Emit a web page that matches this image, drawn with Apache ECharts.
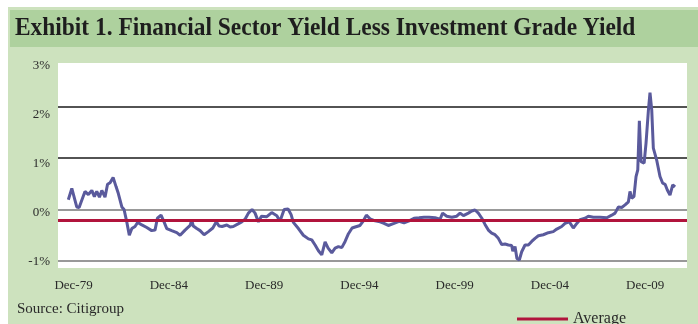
<!DOCTYPE html>
<html><head><meta charset="utf-8">
<script src="https://cdn.jsdelivr.net/npm/echarts@6/dist/echarts.min.js"></script>
<style>html,body{margin:0;padding:0;background:#fff;}#c{width:698px;height:324px;}</style>
</head><body><div id="c"></div>
<script>
// x position of each point, in months after Dec-79 (as read against the chart's own axis labels)
const monthsSinceDec79 = [-3.3,-1.1,-0.1,2.0,3.5,5.4,7.2,9.3,11.5,13.1,
14.6,16.3,17.8,19.8,21.4,23.0,24.9,26.8,28.2,30.4,
31.8,33.5,35.1,36.7,38.7,40.4,43.0,46.1,49.2,51.3,
52.8,55.1,57.1,58.7,61.8,65.0,67.1,70.2,73.4,74.4,
75.4,77.6,79.7,82.2,84.9,87.7,89.9,91.6,93.5,96.5,
98.6,100.6,103.6,105.9,108.0,110.1,112.4,114.3,116.4,118.3,
121.7,124.8,128.0,130.0,132.6,135.1,137.0,138.4,141.6,144.7,
147.9,150.0,152.1,154.2,156.3,158.4,160.3,162.6,164.7,166.8,
168.9,171.0,173.1,175.4,177.3,180.4,182.5,184.4,186.7,189.9,
193.0,195.5,198.2,199.3,201.8,205.0,208.1,211.3,214.4,217.6,
220.7,223.9,227.6,230.8,232.4,235.0,238.2,241.3,243.4,245.5,
248.6,250.8,252.8,254.9,257.1,259.1,261.2,263.3,265.4,267.5,
269.6,271.7,273.8,275.9,276.6,278.0,279.2,280.7,282.2,284.3,
286.4,288.5,290.6,292.7,295.8,299.0,302.1,304.3,307.4,309.5,
312.2,314.7,316.9,318.9,322.1,324.2,327.3,331.5,335.8,338.9,
341.0,343.1,345.2,347.3,349.4,350.4,351.5,352.9,354.2,355.3,
356.3,357.4,359.3,360.5,362.0,363.0,364.1,365.1,367.2,369.3,
371.0,372.5,373.9,375.6,377.3,378.8];

// Financial sector yield less investment grade yield (%)
const spreadValues = [0.19,0.41,0.42,0.05,0.04,0.20,0.35,0.29,0.37,0.25,
0.35,0.24,0.37,0.24,0.49,0.52,0.62,0.44,0.31,0.05,
0.0,-0.24,-0.50,-0.37,-0.33,-0.25,-0.30,-0.35,-0.41,-0.40,
-0.17,-0.11,-0.25,-0.37,-0.41,-0.45,-0.50,-0.40,-0.31,-0.21,
-0.32,-0.37,-0.41,-0.49,-0.43,-0.36,-0.24,-0.32,-0.33,-0.30,
-0.34,-0.33,-0.28,-0.24,-0.19,-0.07,0.0,-0.07,-0.24,-0.13,
-0.14,-0.06,-0.12,-0.23,0.0,0.01,-0.10,-0.25,-0.37,-0.50,
-0.57,-0.59,-0.69,-0.80,-0.88,-0.63,-0.75,-0.84,-0.75,-0.72,
-0.74,-0.62,-0.47,-0.36,-0.34,-0.31,-0.22,-0.11,-0.18,-0.22,
-0.24,-0.27,-0.31,-0.33,-0.27,-0.23,-0.26,-0.22,-0.17,-0.16,
-0.15,-0.15,-0.16,-0.19,-0.07,-0.13,-0.15,-0.13,-0.07,-0.12,
-0.07,-0.03,-0.01,-0.07,-0.17,-0.29,-0.40,-0.46,-0.49,-0.56,
-0.68,-0.67,-0.69,-0.70,-0.81,-0.72,-0.95,-0.98,-0.82,-0.69,
-0.69,-0.62,-0.56,-0.51,-0.49,-0.45,-0.43,-0.38,-0.33,-0.27,
-0.24,-0.36,-0.27,-0.20,-0.17,-0.13,-0.15,-0.15,-0.16,-0.11,
-0.07,0.05,0.04,0.09,0.15,0.35,0.22,0.25,0.64,0.77,
1.72,0.93,0.90,1.29,1.93,2.27,1.93,1.19,0.96,0.64,
0.51,0.49,0.38,0.28,0.48,0.44];

const averageValue = -0.20;
const xTickMonths = [0, 60, 120, 180, 240, 300, 360];
const xTickLabels = ['Dec-79', 'Dec-84', 'Dec-89', 'Dec-94', 'Dec-99', 'Dec-04', 'Dec-09'];
const yMin = -1, yMax = 3, yStep = 1;

const titleText = 'Exhibit 1. Financial Sector Yield Less Investment Grade Yield';
const sourceText = 'Source: Citigroup';

const seriesData = monthsSinceDec79.map((m, i) => [m, spreadValues[i]]);
const serif = '"Liberation Serif", "DejaVu Serif", serif';

const chart = echarts.init(document.getElementById('c'), null, {renderer: 'canvas'});
chart.setOption({
  animation: false,
  backgroundColor: '#ffffff',
  graphic: [
    {type: 'rect', z: -10, silent: true, shape: {x: 8, y: 7, width: 690, height: 317}, style: {fill: '#cde2be'}},
    {type: 'rect', z: -9, silent: true, shape: {x: 10, y: 10, width: 688, height: 37}, style: {fill: '#aed19e'}},
    {type: 'rect', z: -8, silent: true, shape: {x: 58, y: 63, width: 629, height: 205}, style: {fill: '#ffffff'}},
    {type: 'text', x: 15, y: 15, scaleX: 0.9, silent: true,
     style: {text: titleText, font: 'bold 26px ' + serif, fill: '#1e1e1e'}},
    {type: 'text', left: 17, top: 302, silent: true,
     style: {text: sourceText, font: '15px ' + serif, fill: '#2a2a2a'}}
  ],
  legend: {
    left: 512, top: 306, itemWidth: 51, itemHeight: 3, itemGap: 10,
    icon: 'rect',
    data: ['Average'],
    textStyle: {fontFamily: serif, fontSize: 16, color: '#2a2a2a'}
  },
  grid: [
    {left: 58, right: 11, top: 55, bottom: 63},
    {left: 58, right: 11, top: 66, bottom: 62}
  ],
  xAxis: [{
    gridIndex: 0, type: 'value', min: -9.8, max: 386.3,
    axisLine: {show: false}, axisTick: {show: false}, splitLine: {show: false},
    axisLabel: {
      customValues: xTickMonths,
      formatter: v => xTickLabels[xTickMonths.indexOf(Math.round(v))] || '',
      fontFamily: serif, fontSize: 13, color: '#2a2a2a', margin: 18
    }
  }, {
    gridIndex: 1, type: 'value', min: 0, max: 1, show: false
  }],
  yAxis: [{
    gridIndex: 0, type: 'value', min: yMin, max: yMax, interval: yStep,
    axisLine: {show: false}, axisTick: {show: false}, axisLabel: {show: false},
    splitLine: {show: true, lineStyle: {width: 1.5, color: ['#777777', '#777777', '#1a1a1a', '#1a1a1a', 'rgba(0,0,0,0)']}}
  }, {
    gridIndex: 1, type: 'value', min: yMin, max: yMax, interval: yStep,
    axisLine: {show: false}, axisTick: {show: false}, splitLine: {show: false},
    axisLabel: {formatter: '{value}%', fontFamily: serif, fontSize: 13, color: '#2a2a2a', margin: 8}
  }],
  series: [
    {
      name: 'Spread', type: 'line', xAxisIndex: 0, yAxisIndex: 0, data: seriesData, showSymbol: false, symbol: 'none',
      lineStyle: {color: '#5a5a9c', width: 3}, itemStyle: {color: '#5a5a9c'}, z: 3
    },
    {
      name: 'Average', type: 'line', xAxisIndex: 0, yAxisIndex: 0, data: [], symbol: 'none',
      itemStyle: {color: '#b1143c'}, lineStyle: {color: '#b1143c', width: 3},
      markLine: {
        silent: true, symbol: 'none', label: {show: false},
        lineStyle: {color: '#b1143c', width: 3, type: 'solid'},
        data: [{yAxis: averageValue}]
      },
      z: 2
    }
  ]
});
</script>
</body></html>
